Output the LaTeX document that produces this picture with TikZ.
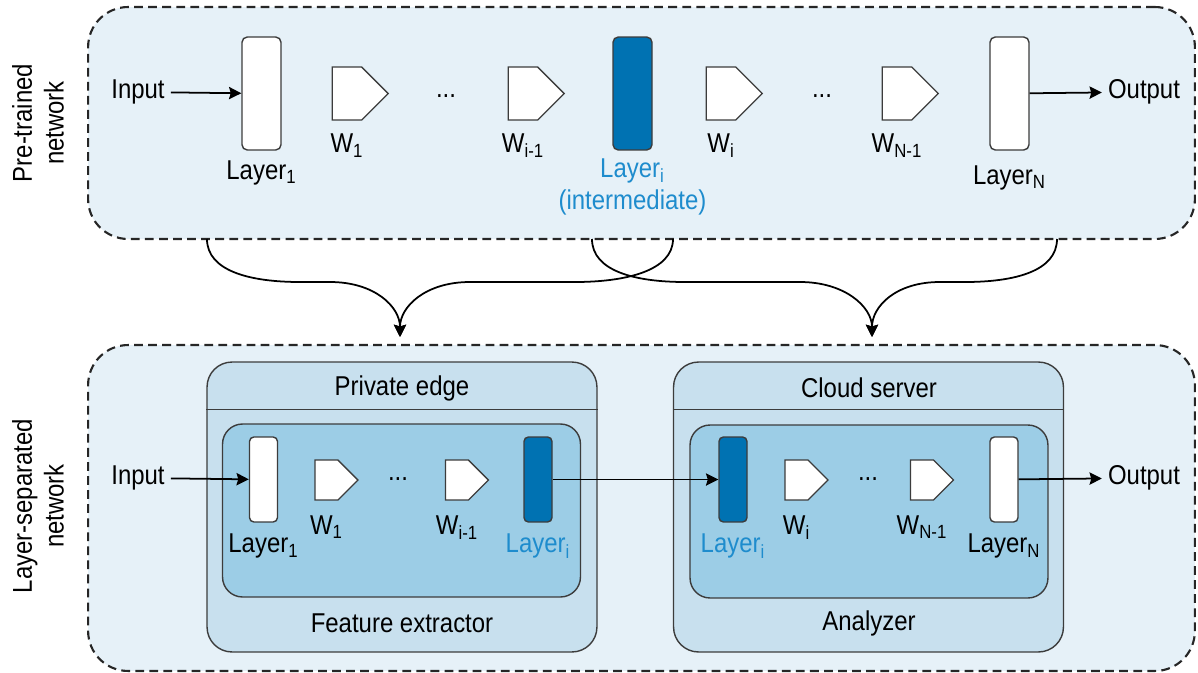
\documentclass[tikz,border=0pt]{standalone}
\usepackage{fontspec}
\setmainfont{Liberation Sans}[FakeStretch=0.88]
\usetikzlibrary{positioning,calc,shapes.symbols,arrows.meta}
\definecolor{bgblue}{RGB}{230,241,248}
\definecolor{edgeblue}{RGB}{200,224,238}
\definecolor{innerblue}{RGB}{156,205,230}
\definecolor{layerblue}{RGB}{0,114,178}
\definecolor{textblue}{RGB}{30,140,205}
\definecolor{boxline}{RGB}{60,60,60}

\begin{document}
\begin{tikzpicture}[x=0.02cm,y=-0.02cm,
every node/.style={font=\fontsize{15.5}{18}\selectfont},
netbox/.style={draw=black!85,fill=bgblue,dash pattern=on 5pt off 3pt,line width=1.2pt,rounded corners=0.8cm,minimum width=22.14cm},
hostbox/.style={draw=boxline,fill=edgeblue,line width=0.8pt,rounded corners=0.5cm,minimum width=7.8cm,minimum height=5.8cm},
partbox/.style={draw=boxline,fill=innerblue,line width=0.8pt,rounded corners=0.4cm,minimum width=7.16cm,minimum height=3.46cm},
bigcell/.style={draw=boxline,fill=white,line width=0.8pt,rounded corners=3pt,inner sep=0pt,minimum width=0.78cm,minimum height=2.26cm},
smallcell/.style={draw=boxline,fill=white,line width=0.8pt,rounded corners=2.5pt,inner sep=0pt,minimum width=0.56cm,minimum height=1.7cm},
bigweight/.style={draw=boxline,fill=white,line width=0.8pt,signal,signal to=east,signal pointer angle=90,inner sep=0pt,minimum width=1.12cm,minimum height=1.06cm},
smallweight/.style={draw=boxline,fill=white,line width=0.8pt,signal,signal to=east,signal pointer angle=90,inner sep=0pt,minimum width=0.86cm,minimum height=0.8cm},
flow/.style={-{Stealth[length=7pt,width=7pt,inset=1pt]},line width=1pt},
brace/.style={-{Stealth[length=7pt,width=7pt,inset=1pt]},line width=1pt}]
\useasboundingbox (0,0) rectangle (1198,673);

% pre-trained network
\node (pretrained) [netbox,minimum height=4.64cm] at (641.5,123) {};
\node (toplbl) [rotate=90,align=center] at (38,123) {Pre-trained\\network};

\node (intop) at (138,92) {Input};
\node (l1top) [bigcell,label={[label distance=2pt]below:Layer\textsubscript{1}}] at (261.5,93.5) {};
\node (w1top) [bigweight,label={[label distance=4pt]below:W\textsubscript{1}}] at (347,93.5) {};
\node (dotstopa) at (446,96) {...};
\node (wprevtop) [bigweight,label={[label distance=4pt]below:W\textsubscript{i-1}}] at (523,93.5) {};
\node (litop) [bigcell,fill=layerblue,label={[label distance=1pt,align=center,text=textblue]below:Layer\textsubscript{i}\\(intermediate)}] at (632.5,93.5) {};
\node (witop) [bigweight,label={[label distance=4pt]below:W\textsubscript{i}}] at (721,93.5) {};
\node (dotstopb) at (822,96) {...};
\node (wlasttop) [bigweight,label={[label distance=4pt]below:W\textsubscript{N-1}}] at (897,93.5) {};
\node (lntop) [bigcell,label={[label distance=5pt]below:Layer\textsubscript{N}}] at (1009.5,93.5) {};
\node (outtop) at (1144,92) {Output};

\draw [flow] (intop) -- (l1top);
\draw [flow] (lntop) -- (outtop);

% braces
\coordinate (braceA) at (207,239);
\coordinate (braceB) at (673,239);
\coordinate (braceC) at (592,239);
\coordinate (braceD) at (1057,239);
\coordinate (tipL) at (400,337);
\coordinate (tipR) at (872,337);
\draw [brace] (braceA) .. controls +(0,32) and +(-50,0) .. (300,282) -- (330,282) .. controls +(45,0) and +(0,-30) .. (tipL);
\draw [brace] (braceB) .. controls +(0,32) and +(50,0) .. (575,282) -- (470,282) .. controls +(-45,0) and +(0,-30) .. (tipL);
\draw [brace] (braceC) .. controls +(0,32) and +(-50,0) .. (685,282) -- (800,282) .. controls +(45,0) and +(0,-30) .. (tipR);
\draw [brace] (braceD) .. controls +(0,32) and +(50,0) .. (965,282) -- (940,282) .. controls +(-45,0) and +(0,-30) .. (tipR);

% layer-separated network
\node (separated) [netbox,minimum height=6.52cm] at (641.5,508) {};
\node (botlbl) [rotate=90,align=center] at (38,506) {Layer-separated\\network};

\node (edge) [hostbox] at (402,507) {};
\draw [draw=boxline,line width=0.8pt] ($(edge.north west)+(0,48)$) -- ($(edge.north east)+(0,48)$);
\node (edgetitle) at (402,388) {Private edge};
\node (extractor) [partbox] at (401.5,510.5) {};
\node (extractorlbl) at (402,623) {Feature extractor};

\node (cloud) [hostbox] at (868.5,507) {};
\draw [draw=boxline,line width=0.8pt] ($(cloud.north west)+(0,48)$) -- ($(cloud.north east)+(0,48)$);
\node (cloudtitle) at (869,388) {Cloud server};
\node (analyzer) [partbox] at (869,511.5) {};
\node (analyzerlbl) at (869,623) {Analyzer};

\node (inbot) at (138,478) {Input};
\node (l1bot) [smallcell,label={[label distance=3pt]below:Layer\textsubscript{1}}] at (263.5,479.5) {};
\node (w1bot) [smallweight,label={[label distance=5pt]below:W\textsubscript{1}}] at (326.5,480) {};
\node (dotsbota) at (398,479) {...};
\node (wprevbot) [smallweight,label={[label distance=5pt]below:W\textsubscript{i-1}}] at (457,480) {};
\node (libot) [smallcell,fill=layerblue,label={[label distance=3pt,text=textblue]below:Layer\textsubscript{i}}] at (538,479.5) {};

\node (licloud) [smallcell,fill=layerblue,label={[label distance=3pt,text=textblue]below:Layer\textsubscript{i}}] at (733,479.5) {};
\node (wibot) [smallweight,label={[label distance=5pt]below:W\textsubscript{i}}] at (796.5,480) {};
\node (dotsbotb) at (868,479) {...};
\node (wlastbot) [smallweight,label={[label distance=5pt]below:W\textsubscript{N-1}}] at (922,480) {};
\node (lnbot) [smallcell,label={[label distance=3pt]below:Layer\textsubscript{N}}] at (1004,479.5) {};
\node (outbot) at (1144,478) {Output};

\draw [flow] (inbot) -- (l1bot);
\draw [flow] (libot) -- (licloud);
\draw [flow] (lnbot) -- (outbot);
\end{tikzpicture}
\end{document}
